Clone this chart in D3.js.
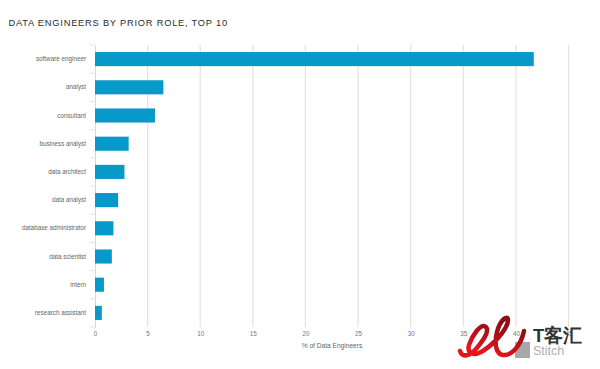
<!DOCTYPE html>
<html>
<head>
<meta charset="utf-8">
<script src="https://cdn.jsdelivr.net/npm/d3@7"></script>
<style>
    body { margin: 0; background: #fff; }
    text { font-family: "Liberation Sans", Arial, sans-serif; }
</style>
</head>
<body>
<svg id="chart"></svg>
<script>
// values
const roles = ["software engineer", "analyst", "consultant", "business analyst", "data architect",
    "data analyst", "database administrator", "data scientist", "intern", "research assistant"];
const shares = [41.7, 6.5, 5.7, 3.2, 2.8, 2.2, 1.75, 1.6, 0.85, 0.65];
const xTicks = [0, 5, 10, 15, 20, 25, 30, 35, 40, 45];

function main() {
    let canvasWidth = 600;
    let canvasHeight = 369;

    let svg = d3.select("#chart")
        .attr("width", canvasWidth)
        .attr("height", canvasHeight)
        .style("display", "block");

    const marginLeft = 95;
    const marginTop = 45;
    const plotBottom = 327;

    // title
    svg.append("text")
        .text("DATA ENGINEERS BY PRIOR ROLE, TOP 10")
        .attr("x", 8.5)
        .attr("y", 26)
        .attr("font-size", 9.3)
        .attr("letter-spacing", 0.77)
        .attr("fill", "#2b2b2b");

    let x = d3.scaleLinear()
        .domain([0, 45])
        .range([marginLeft, 568.5]);

    // outer padding is half of the inner one, so the bands fill the whole axis
    let y = d3.scaleBand()
        .domain(roles)
        .range([marginTop, plotBottom])
        .paddingInner(0.5)
        .paddingOuter(0.25);

    // grid lines
    svg.append("g")
        .selectAll("line")
        .data(xTicks.filter(d => d > 0))
        .join("line")
        .attr("x1", d => x(d))
        .attr("x2", d => x(d))
        .attr("y1", marginTop)
        .attr("y2", plotBottom)
        .attr("stroke", "#e2e2e2")
        .attr("stroke-width", 1.2);

    // X axis, labels only
    let xAxis = svg.append("g")
        .attr("transform", `translate(0, ${plotBottom})`)
        .call(d3.axisBottom(x).tickValues(xTicks).tickSize(0).tickPadding(5));
    xAxis.select(".domain").remove();
    xAxis.selectAll("text")
        .attr("font-size", 6.3)
        .attr("fill", "#777");

    // Y axis
    let yAxis = svg.append("g")
        .attr("transform", `translate(${marginLeft}, 0)`)
        .call(d3.axisLeft(y).tickSize(0).tickPadding(9));
    yAxis.select(".domain").attr("stroke", "#d6d6d6");
    yAxis.selectAll("text")
        .attr("font-size", 6.3)
        .attr("fill", "#666");

    // small marks between the categories
    svg.append("g")
        .selectAll("line")
        .data(d3.range(roles.length + 1))
        .join("line")
        .attr("x1", marginLeft - 5)
        .attr("x2", marginLeft)
        .attr("y1", d => marginTop + d * y.step())
        .attr("y2", d => marginTop + d * y.step())
        .attr("stroke", "#dcdcdc")
        .attr("stroke-width", 0.8);

    // bars
    svg.selectAll(".bar")
        .data(roles)
        .join("rect")
        .attr("class", "bar")
        .attr("x", x(0))
        .attr("y", d => y(d))
        .attr("width", (d, i) => x(shares[i]) - x(0))
        .attr("height", y.bandwidth())
        .attr("fill", "#0899cb");

    // X axis title
    svg.append("text")
        .text("% of Data Engineers")
        .attr("x", 332)
        .attr("y", 348)
        .attr("font-size", 6.6)
        .attr("fill", "#666")
        .style("text-anchor", "middle");

    watermark(svg);
}

// logo sitting over the bottom right corner of the picture
function watermark(svg) {
    let g = svg.append("g");

    let grad = svg.append("defs").append("linearGradient")
        .attr("id", "logoRed")
        .attr("x1", "0").attr("y1", "1")
        .attr("x2", "0.6").attr("y2", "0");
    grad.append("stop").attr("offset", "0.25").attr("stop-color", "#e5141c");
    grad.append("stop").attr("offset", "0.85").attr("stop-color", "#8e1016");

    g.append("rect")
        .attr("x", 515).attr("y", 342).attr("width", 15).attr("height", 16)
        .attr("fill", "#a8a8a8");
    g.append("text")
        .text("Stitch")
        .attr("x", 533).attr("y", 355)
        .attr("font-family", "Liberation Serif")
        .attr("font-size", 12.5)
        .attr("fill", "#b0b0b0");
    g.append("path")
        .attr("d", "M460,351 C462,358 470,356 476,349 C482,342 490,332 486,327 C481,322 472,336 469,345 C467,352 472,356 479,353 C490,348 508,330 508,320 C508,314 500,320 497,332 C494,344 496,354 503,355 C512,356 521,345 524,331")
        .attr("fill", "none")
        .attr("stroke", "url(#logoRed)")
        .attr("stroke-width", 4.5)
        .attr("stroke-linecap", "round");
    g.append("text")
        .text("T客汇")
        .attr("x", 533).attr("y", 342)
        .attr("font-family", "Noto Sans CJK SC")
        .attr("font-weight", 700)
        .attr("font-size", 18.5)
        .attr("fill", "#333");
}

main();
</script>
</body>
</html>
